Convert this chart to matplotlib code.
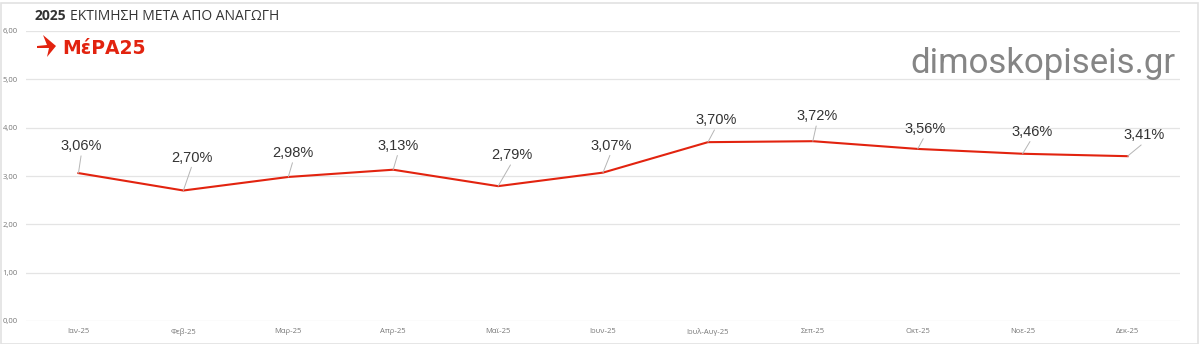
import numpy as np
import matplotlib.pyplot as plt
from matplotlib.patches import Polygon, Rectangle

months = ['Ιαν-25', 'Φεβ-25', 'Μαρ-25', 'Απρ-25', 'Μαϊ-25', 'Ιουν-25',
          'Ιουλ-Αυγ-25', 'Σεπ-25', 'Οκτ-25', 'Νοε-25', 'Δεκ-25']
values = [3.06, 2.70, 2.98, 3.13, 2.79, 3.07, 3.70, 3.72, 3.56, 3.46, 3.41]
y_ticks = [0, 1, 2, 3, 4, 5, 6]

# label offsets in pixels (dx, dy) from each point
label_offsets = [(3, 27), (9, 33), (5, 24), (5, 24), (14, 31), (8, 27),
                 (8, 22), (4, 25), (7, 20), (9, 22), (17, 21)]

red = '#e2230f'

fig = plt.figure(figsize=(12, 3.44), dpi=100)
fig.patch.set_facecolor('white')
ax = fig.add_axes([26 / 1200, 1 - 321 / 344, (1180 - 26) / 1200, 290 / 344])

x = np.arange(len(months))
ax.plot(x, values, color=red, lw=1.5, solid_joinstyle='miter', zorder=3)

for xi, v, (dx, dy) in zip(x, values, label_offsets):
    ax.annotate(f'{v:.2f}%'.replace('.', ','), xy=(xi, v),
                xytext=(dx, dy), textcoords='offset pixels',
                ha='center', va='center', fontsize=10.5,
                family='Liberation Sans', color='#333333',
                arrowprops=dict(arrowstyle='-', color='#b5b5b5', lw=0.7,
                                shrinkA=0, shrinkB=0, relpos=(0.5, 0.0)),
                zorder=4)

ax.set_xlim(-0.5, len(months) - 0.5)
ax.set_ylim(0, 6)
ax.set_yticks(y_ticks)
ax.set_yticklabels([f'{t:.2f}'.replace('.', ',') for t in y_ticks])
ax.set_xticks(x)
ax.set_xticklabels(months)
ax.tick_params(axis='both', length=0, labelsize=5.5, labelcolor='#777777')
ax.tick_params(axis='y', pad=6)
ax.tick_params(axis='x', pad=5)
for lbl in ax.get_xticklabels() + ax.get_yticklabels():
    lbl.set_family('Open Sans')
ax.grid(axis='y', color='#e4e4e4', lw=0.9)
ax.set_axisbelow(True)
for s in ax.spines.values():
    s.set_visible(False)

# title
fig.text(35 / 1200, 1 - 16 / 344, '2025', fontsize=10, fontweight='bold',
         family='Open Sans', color='#333333', va='center')
fig.text(70 / 1200, 1 - 16 / 344, 'ΕΚΤΙΜΗΣΗ ΜΕΤΑ ΑΠΟ ΑΝΑΓΩΓΗ', fontsize=10,
         family='Open Sans', color='#333333', va='center')

# party logo: swallow mark plus wordmark
bird_px = [(37, 46), (47, 45), (43, 35), (56, 46), (47, 57), (49, 48),
           (37, 48)]
bird = Polygon([(px / 1200, 1 - py / 344) for px, py in bird_px], closed=True,
               facecolor=red, edgecolor='none', transform=fig.transFigure)
fig.patches.append(bird)
fig.text(62 / 1200, 1 - 48 / 344, 'ΜέΡΑ25', fontsize=13.5, fontweight='bold',
         family='DejaVu Sans', color=red, va='center')

# watermark
fig.text(1176 / 1200, 1 - 63 / 344, 'dimoskopiseis.gr', fontsize=25,
         family='Roboto', color='#858585', ha='right', va='center')

# light frame
fig.patches.append(Rectangle((0.5 / 1200, 0.5 / 344), 1197 / 1200, 341 / 344,
                             transform=fig.transFigure, fill=False,
                             edgecolor='#e2e2e2', lw=1.2))

fig.savefig('out.png', dpi=100)
